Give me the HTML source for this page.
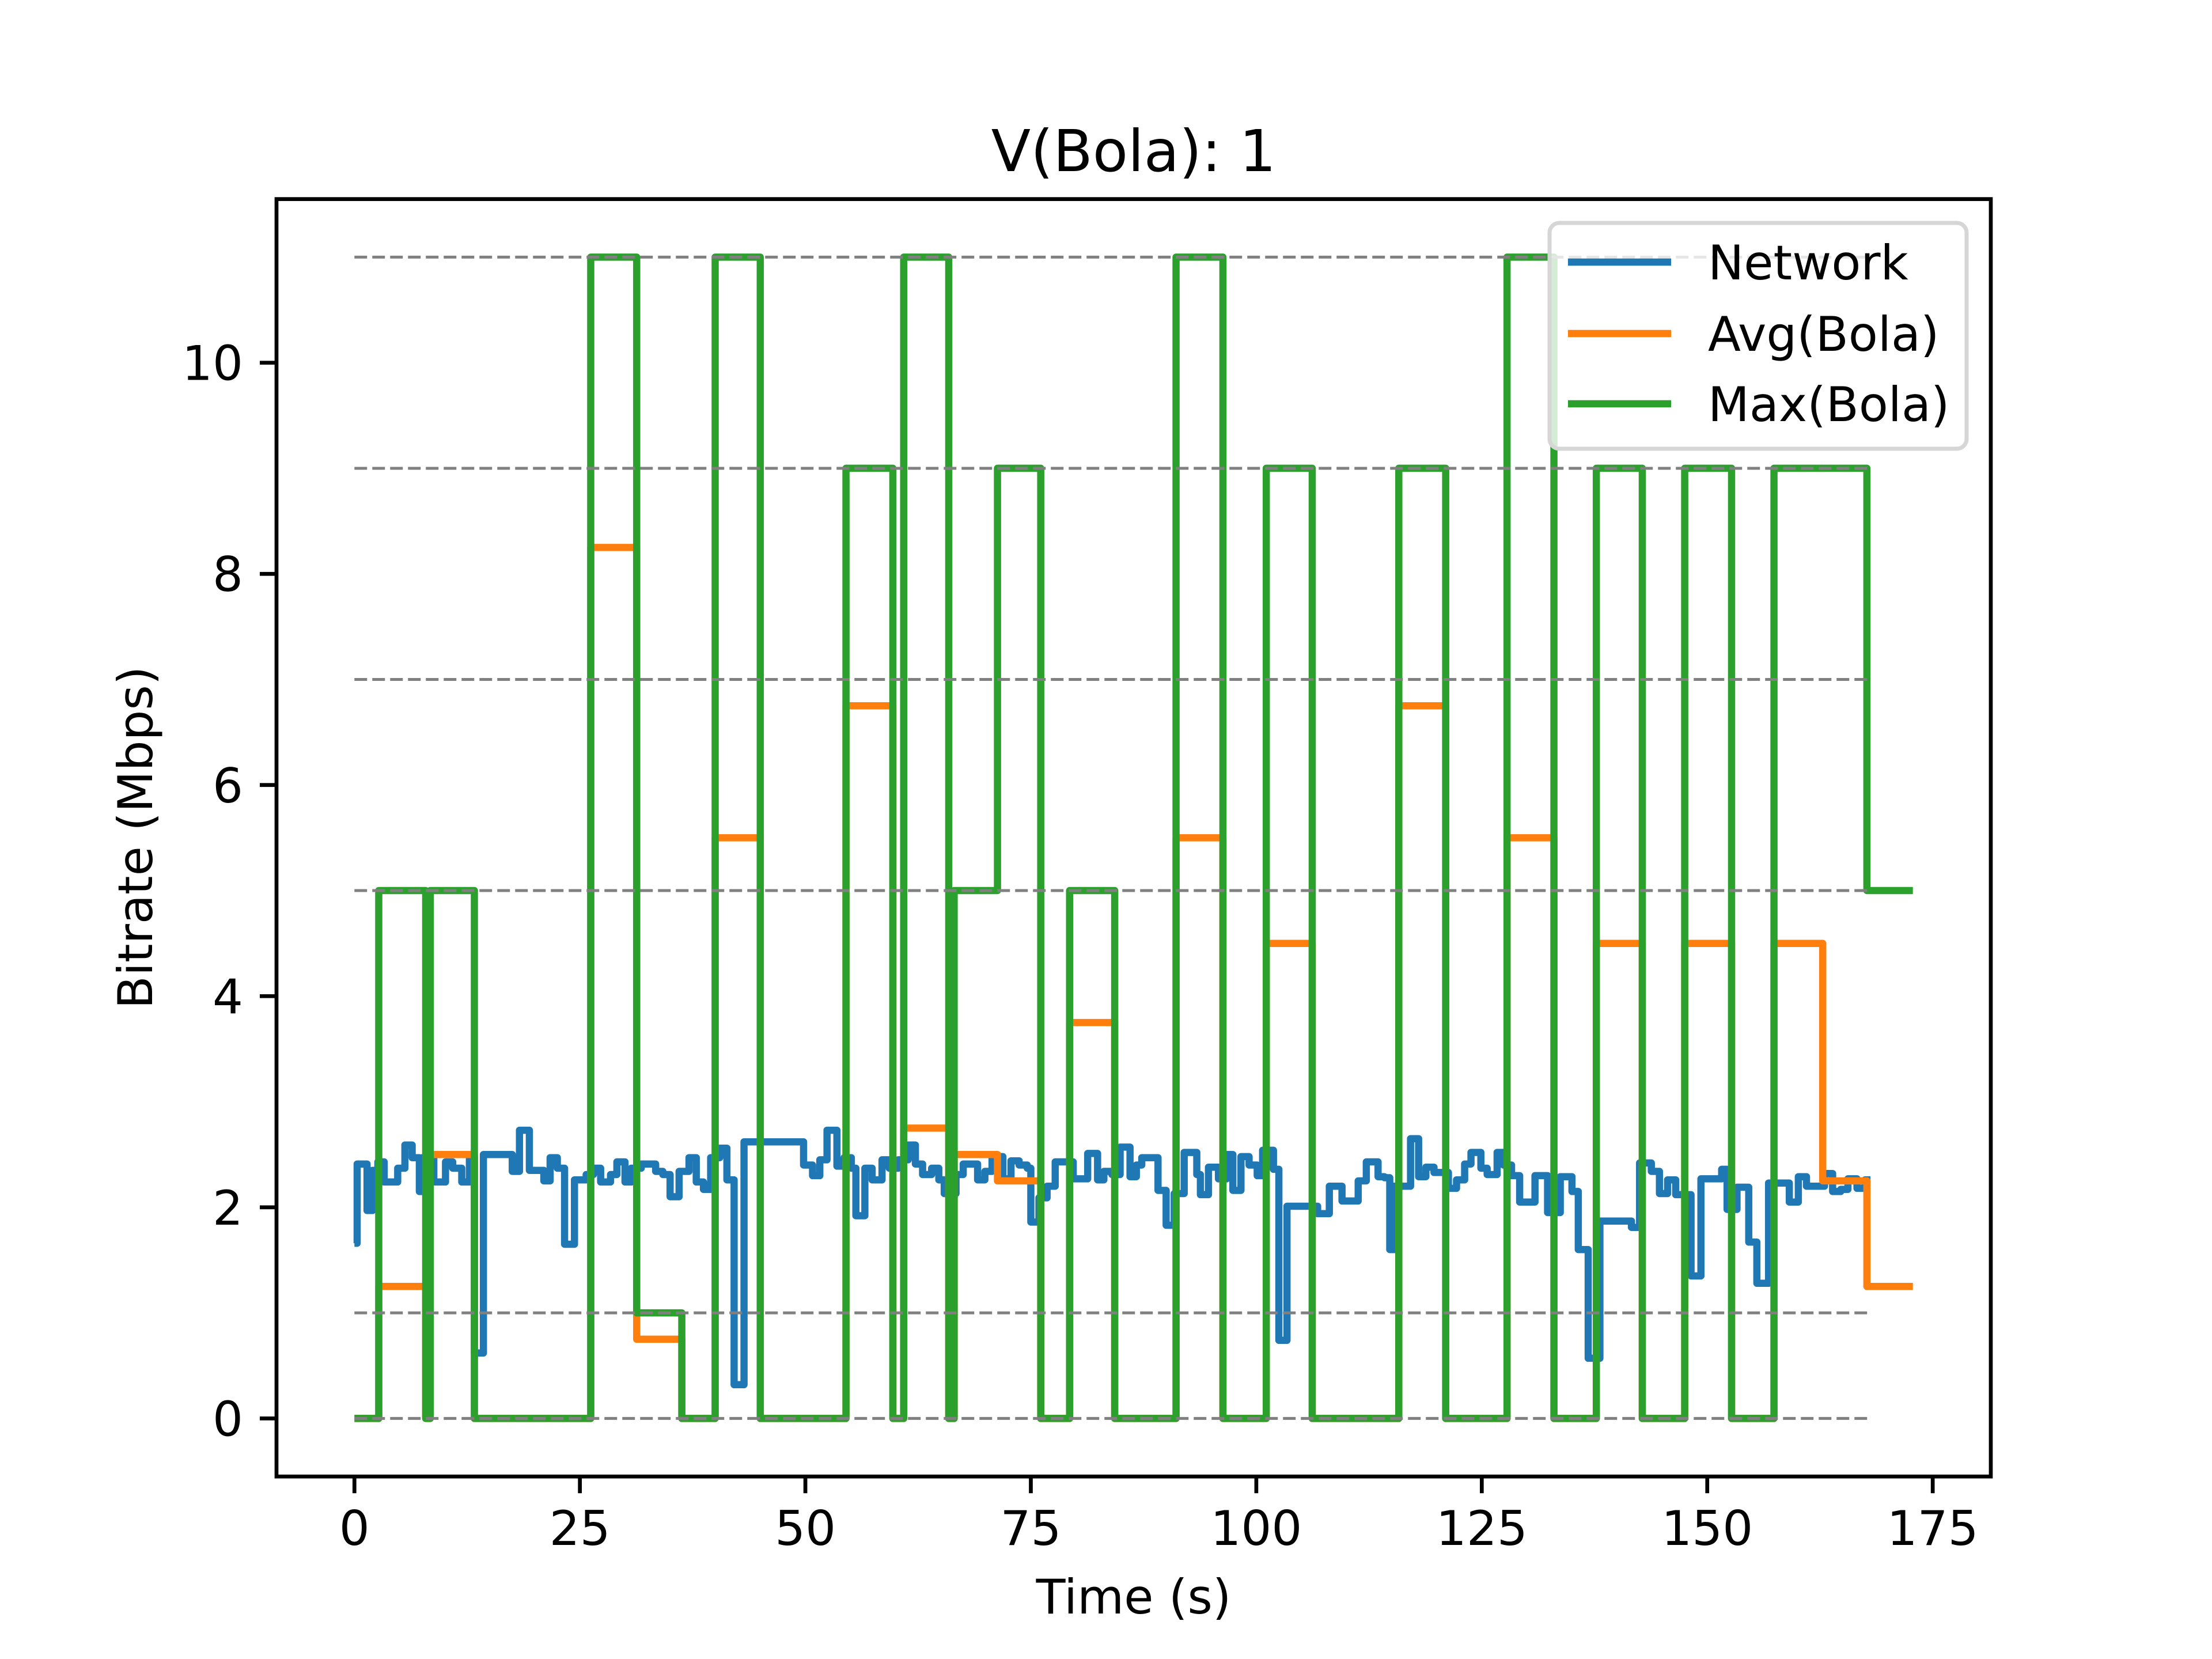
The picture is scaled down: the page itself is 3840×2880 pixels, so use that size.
<!DOCTYPE html>
<html><head><meta charset="utf-8">
<style>html,body{margin:0;padding:0;background:#fff}svg{display:block}text{font-family:"DejaVu Sans","Liberation Sans",sans-serif;fill:#000}</style>
</head><body>
<svg id="chart" xmlns="http://www.w3.org/2000/svg" width="3840" height="2880" viewBox="0 0 3840 2880">
<rect x="0" y="0" width="3840" height="2880" fill="#fff"/>
<g id="grid"></g>
<g id="series"></g>
<g id="gridTop"></g>
<rect x="480" y="345.6" width="2976" height="2217.6" fill="none" stroke="#000" stroke-width="6.7"/>
<g id="xticks"></g>
<g id="yticks"></g>
<text x="1968" y="297" font-size="100" text-anchor="middle">V(Bola): 1</text>
<text x="1968" y="2801" font-size="83.3" text-anchor="middle">Time (s)</text>
<text x="264" y="1454" font-size="83.3" text-anchor="middle" transform="rotate(-90 264 1454)">Bitrate (Mbps)</text>
<g>
<rect x="2690" y="387" width="724" height="392" rx="17" fill="#fff" fill-opacity="0.8" stroke="#d6d6d6" stroke-width="7"/>
<line x1="2722" y1="455" x2="2901" y2="455" stroke="#1f77b4" stroke-width="12.5"/>
<text x="2965" y="485" font-size="83.3">Network</text>
<line x1="2722" y1="579" x2="2901" y2="579" stroke="#ff7f0e" stroke-width="12.5"/>
<text x="2965" y="609" font-size="83.3">Avg(Bola)</text>
<line x1="2722" y1="701" x2="2901" y2="701" stroke="#2ca02c" stroke-width="12.5"/>
<text x="2965" y="731" font-size="83.3">Max(Bola)</text>
</g>
</svg>
<script>
const netT=[0,0.3,1.4,2.0,2.6,3.3,4.8,5.6,6.4,7.2,7.5,8.8,10.1,10.9,11.9,12.75,13.3,14.3,17.5,18.3,19.4,21.0,21.7,22.5,23.3,24.4,25.7,26.5,27.3,28.4,29.1,30.0,30.7,31.8,33.4,34.2,35.0,36.0,37.1,37.9,38.7,39.5,40.5,41.3,42.1,43.2,49.8,50.8,51.6,52.4,53.5,54.3,55.1,55.6,56.6,57.4,58.5,59.3,60.3,61.4,62.2,63.0,64.0,64.8,65.4,66.7,67.5,69.1,69.9,70.7,71.4,71.9,72.8,73.7,74.6,75.0,75.9,76.8,77.7,79.7,81.3,82.4,83.1,84.0,84.9,86.0,86.7,87.3,89.1,90.0,90.9,92.0,93.4,93.8,94.7,95.8,96.7,97.4,98.3,99.2,100.1,100.7,101.9,102.5,103.4,106.8,108.1,109.5,111.3,112.2,113.5,114.2,114.8,115.3,117.1,118.0,118.8,119.7,121.3,122.2,123.1,123.8,124.9,125.6,126.7,127.4,128.3,129.2,130.9,132.3,133.7,135.0,135.7,136.8,138.1,141.6,142.5,143.8,144.7,145.6,146.5,148.2,149.3,151.6,152.2,153.3,154.6,155.5,156.8,159.1,160.1,161.0,163.0,163.9,164.8,165.6,166.6,167.5,168.1];
const netV=[1.66,2.41,1.97,2.35,2.43,2.24,2.37,2.59,2.47,2.15,2.47,2.24,2.43,2.37,2.24,2.47,0.62,2.5,2.34,2.73,2.35,2.25,2.47,2.37,1.65,2.26,2.31,2.37,2.24,2.31,2.43,2.24,2.37,2.41,2.34,2.31,2.1,2.34,2.47,2.24,2.17,2.47,2.56,2.26,0.32,2.62,2.4,2.3,2.45,2.73,2.39,2.47,2.37,1.92,2.37,2.26,2.45,2.37,2.45,2.59,2.41,2.31,2.37,2.26,2.13,2.31,2.41,2.26,2.34,2.47,2.48,2.27,2.44,2.4,2.37,1.86,2.09,2.2,2.43,2.27,2.51,2.26,2.34,2.31,2.57,2.29,2.4,2.47,2.16,1.83,2.13,2.52,2.31,2.12,2.38,2.27,2.5,2.16,2.48,2.4,2.3,2.54,2.36,0.74,2.01,1.94,2.2,2.06,2.25,2.43,2.29,2.28,1.6,2.2,2.65,2.29,2.38,2.33,2.18,2.26,2.41,2.52,2.37,2.31,2.52,2.4,2.3,2.05,2.3,1.95,2.29,2.15,1.6,0.57,1.87,1.81,2.42,2.34,2.13,2.26,2.12,1.35,2.27,2.36,1.98,2.19,1.67,1.28,2.23,2.05,2.29,2.2,2.32,2.15,2.17,2.27,2.18,2.26,2.26];
const avgT=[0,2.7,7.9,8.4,13.3,26.2,31.3,36.3,40.0,45.0,54.5,59.7,60.9,65.9,66.5,71.3,76.1,79.3,84.3,91.1,96.3,101.1,106.2,115.8,121.0,127.8,133.0,137.7,142.8,147.5,152.7,157.4,162.8,167.7,172.8];
const avgV=[0,1.25,0,2.5,0,8.25,0.75,0,5.5,0,6.75,0,2.75,0,2.5,2.25,0,3.75,0,5.5,0,4.5,0,6.75,0,5.5,0,4.5,0,4.5,0,4.5,2.25,1.25,1.25];
const maxT=[0,2.7,7.9,8.4,13.3,26.2,31.3,36.3,40.0,45.0,54.5,59.7,60.9,65.9,66.5,71.3,76.1,79.3,84.3,91.1,96.3,101.1,106.2,115.8,121.0,127.8,133.0,137.7,142.8,147.5,152.7,157.4,167.7,172.8];
const maxV=[0,5,0,5,0,11,1,0,11,0,9,0,11,0,5,9,0,5,0,11,0,9,0,9,0,11,0,9,0,9,0,9,5,5];
const levels=[0,1,5,7,9,11];
const levelEnd=167.8;
const xTicks=[0,25,50,75,100,125,150,175];
const yTicks=[0,2,4,6,8,10];

const NS="http://www.w3.org/2000/svg";
const X0=480,XW=2976,Y0=345.6,YH=2217.6,XMIN=-8.64,XMAX=181.44,YMIN=-0.55,YMAX=11.55;
function X(t){return X0+(t-XMIN)/(XMAX-XMIN)*XW;}
function Y(v){return Y0+(YMAX-v)/(YMAX-YMIN)*YH;}
function mk(tag,attrs,parent){const e=document.createElementNS(NS,tag);for(const k in attrs)e.setAttribute(k,attrs[k]);parent.appendChild(e);return e;}
function stepPath(ts,vs){let d="M"+X(ts[0]).toFixed(1)+","+Y(vs[0]).toFixed(1);
 for(let i=1;i<ts.length;i++){d+="H"+X(ts[i]).toFixed(1)+"V"+Y(vs[i]).toFixed(1);}return d;}
const series=document.getElementById("series");
const pn=mk("path",{d:stepPath(netT,netV),fill:"none",stroke:"#1f77b4","stroke-width":12.5,"stroke-linejoin":"round"},series);


const pa=mk("path",{d:stepPath(avgT,avgV),fill:"none",stroke:"#ff7f0e","stroke-width":12.5,"stroke-linejoin":"round"},series);


const pm=mk("path",{d:stepPath(maxT,maxV),fill:"none",stroke:"#2ca02c","stroke-width":12.5,"stroke-linejoin":"round"},series);


const gt=document.getElementById("gridTop");
levels.forEach(l=>{const ln=mk("line",{x1:X(0),x2:X(levelEnd),y1:Y(l),y2:Y(l),stroke:"#808080","stroke-width":5,"stroke-dasharray":"22 9"},gt);
 
 });
const xg=document.getElementById("xticks");
xTicks.forEach(t=>{const x=X(t);
 const tk=mk("line",{x1:x,x2:x,y1:2563.2,y2:2563.2+29,stroke:"#000","stroke-width":6.7},xg);
 
 
 const tx=mk("text",{x:x,y:2682,"font-size":83.3,"text-anchor":"middle"},xg);tx.textContent=String(t);
 
 });
const yg=document.getElementById("yticks");
yTicks.forEach(v=>{const y=Y(v);
 const tk=mk("line",{x1:480-29,x2:480,y1:y,y2:y,stroke:"#000","stroke-width":6.7},yg);
 
 
 const tx=mk("text",{x:422,y:y+30,"font-size":83.3,"text-anchor":"end"},yg);tx.textContent=String(v);
 
 });
</script>
</body></html>
